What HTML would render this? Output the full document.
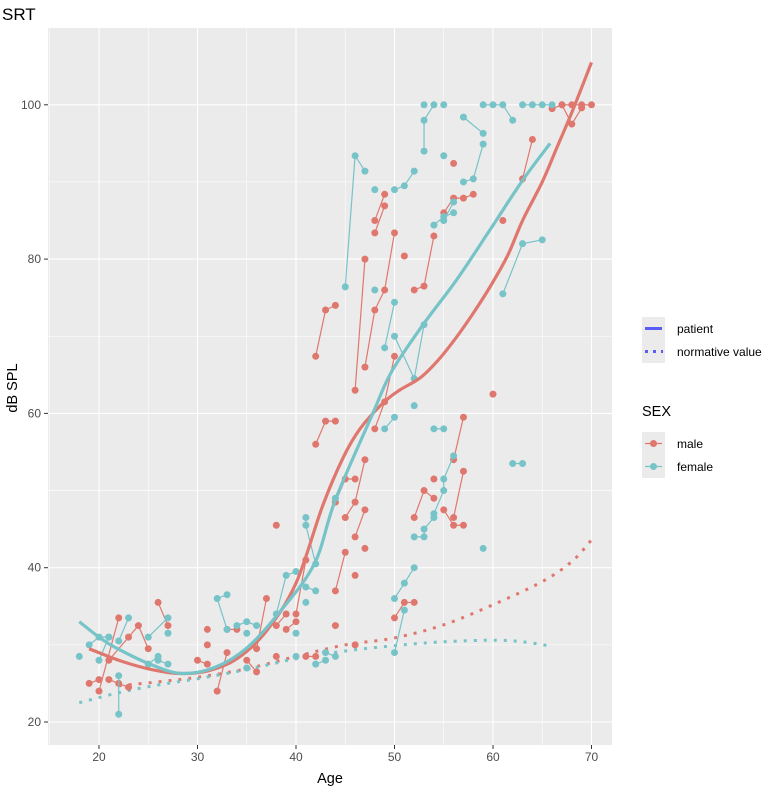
<!DOCTYPE html>
<html><head><meta charset="utf-8"><style>
body{margin:0;background:#fff;font-family:"Liberation Sans",sans-serif}
svg text{font-family:"Liberation Sans",sans-serif}
</style></head><body>
<svg id="chart" width="779" height="790" viewBox="0 0 779 790">
<text x="2" y="20" font-size="17" fill="#000">SRT</text>
<rect x="48" y="28" width="564" height="717" fill="#EBEBEB"/>
<g id="grid"></g>
<g id="axes"></g>
<g id="series"></g>
<text x="330" y="783" font-size="14.5" text-anchor="middle" fill="#000">Age</text>
<text transform="translate(17,388) rotate(-90)" font-size="14.5" text-anchor="middle" fill="#000">dB SPL</text>
<g>
<rect x="642" y="317" width="23" height="23" fill="#EBEBEB"/>
<line x1="645" y1="328.5" x2="662" y2="328.5" stroke="#5B5BF5" stroke-width="3"/>
<text x="677" y="333" font-size="12" fill="#000">patient</text>
<rect x="642" y="340" width="23" height="23" fill="#EBEBEB"/>
<line x1="645" y1="351.5" x2="663" y2="351.5" stroke="#5B5BF5" stroke-width="3" stroke-dasharray="3,5"/>
<text x="677" y="356" font-size="12" fill="#000">normative value</text>
</g>
<g>
<text x="642" y="416" font-size="14.5" fill="#000">SEX</text>
<rect x="642" y="432" width="23" height="23" fill="#EBEBEB"/>
<line x1="645" y1="443.5" x2="662" y2="443.5" stroke="#E0776E" stroke-width="1.2"/>
<circle cx="653.5" cy="443.5" r="3.5" fill="#E0776E"/>
<text x="677" y="448" font-size="12" fill="#000">male</text>
<rect x="642" y="455" width="23" height="23" fill="#EBEBEB"/>
<line x1="645" y1="466.5" x2="662" y2="466.5" stroke="#76C3C8" stroke-width="1.2"/>
<circle cx="653.5" cy="466.5" r="3.5" fill="#76C3C8"/>
<text x="677" y="471" font-size="12" fill="#000">female</text>
</g>
</svg>
<script>
const xTicks = [20,30,40,50,60,70];
const yTicks = [20,40,60,80,100];
const maleGroups = [
[[19,25],[20,25.5]],[[21,25.5],[22,25],[23,24.5]],[[20,24],[22,33.5]],[[21,28],[23,31],[24,32.5],[25,29.5]],
[[26,35.5],[27,32.5]],[[30,28],[31,27.5]],[[31,32]],[[31,30]],[[32,24],[33,29]],[[33,32],[34,32]],
[[37,36],[36,29.5]],[[35,28],[36,26.5]],[[38,32.5],[39,34]],[[39,32],[40,33]],[[40,34],[41,41]],[[38,28.5]],[[38,45.5]],
[[41,28.5],[42,28.5]],[[44,37],[45,42]],[[44,32.5]],[[42,56],[43,59],[44,59]],[[42,67.4],[43,73.4],[44,74]],
[[44,48.5],[45,51.5],[46,51.5]],[[45,46.5],[46,48.5],[47,54]],[[46,44],[47,47.5]],[[47,42.5]],[[46,39]],[[46,30]],
[[46,63],[47,80]],[[47,66],[48,73.4],[49,76],[50,83.4]],[[48,58],[49,61.5],[50,67.4]],[[51,80.4]],
[[52,76],[53,76.5],[54,83]],[[48,85],[49,88.4]],[[48,83.4],[49,86.9]],[[50,33.5],[51,35.5],[52,35.5]],
[[52,46.5],[53,50],[54,49]],[[54,51.5]],[[55,47.5],[56,45.5],[57,45.5]],[[56,46.5],[57,52.5]],[[56,54],[57,59.5]],
[[55,86],[56,87.9],[57,87.9],[58,88.4]],[[56,92.4]],[[60,62.5]],[[61,85]],[[63,90.4],[64,95.5]],
[[66,99.5],[67,100],[68,100],[69,100],[70,100]],[[67,100],[68,97.5],[69,99.6]]
];
const femaleGroups = [
[[18,28.5]],[[19,30],[20,31],[21,31]],[[20,28],[21,31]],[[22,30.5],[23,33.5]],[[22,26],[22,21]],[[25,31],[27,33.5]],
[[27,31.5]],[[25,27.5],[26,28.5]],[[26,28],[27,27.5]],[[33,36.5],[32,36],[33,32]],[[34,32.5],[35,33],[36,32.5]],
[[35,31.5]],[[35,27]],[[38,34],[39,39],[40,39.5]],[[40,31.5]],[[40,28.5]],[[41,46.5],[41,45.5],[42,40.5]],
[[41,37.5],[42,37]],[[41,35.5]],[[43,29],[44,28.5]],[[42,27.5],[43,28]],[[44,49]],[[45,76.4],[46,93.4],[47,91.4]],
[[48,76]],[[48,89]],[[50,89],[51,89.5],[52,91.4]],[[49,68.5],[50,74.4]],[[50,70],[52,64.5],[53,71.5]],[[52,61]],
[[49,58],[50,59.5]],[[54,58],[55,58]],[[52,44],[53,44],[53,45],[54,46.5],[54,47],[55,50],[55,51.5],[56,54.5]],
[[50,29],[51,34.5]],[[50,36],[51,38],[52,40]],[[59,42.5]],[[53,94],[53,98],[54,100]],[[53,100]],[[55,100]],
[[54,84.4],[55,85.5],[56,86]],[[55,85],[56,87.4]],[[55,93.4]],[[57,98.4],[59,96.3]],[[57,90],[58,90.4],[59,94.9]],
[[59,100],[60,100],[61,100],[62,98]],[[63,100],[64,100],[65,100],[66,100]],[[61,75.5],[63,82],[65,82.5]],[[62,53.5],[63,53.5]]
];
const maleFitAge = [19,22,25,28,31,34,37,40,42.7,44.8,46.5,48.8,50.5,52.6,54.5,56.3,58,59.7,61.5,63,65,66.5,68,70];
const maleFitDb  = [29.5,28,26.9,26.3,26.6,28.2,31.8,38,48,54.3,58,61.3,63,64.6,67,69.9,73,76.4,80.5,85,90,94.5,99,105.5];
const femaleFitAge = [18,20,21.6,25,28.3,31.8,35.1,38.5,41.9,44,47.8,49.7,52.9,56.3,59.7,63,65.8];
const femaleFitDb  = [33,31,29.7,27.6,26.3,27.1,29.7,34.5,40.6,48.8,60,65.4,71.5,77.3,83.8,90.2,95];
const maleNormAge = [22,26,30,35,40,45,50,55,60,65,68,70];
const maleNormDb  = [24.7,25.2,25.8,26.9,28.5,30,30.9,32.6,35.2,38.2,40.8,43.6];
const femaleNormAge = [18,22,26,30,35,40,45,50,55,60,63,66];
const femaleNormDb  = [22.5,23.8,24.8,25.6,26.8,28.2,29.2,29.9,30.4,30.6,30.4,29.8];

const X0=48,X1=612,Y0=28,Y1=745;
function xs(a){return 99+(a-20)*9.85;}
function ys(d){return 722-(d-20)*7.715;}
const NS='http://www.w3.org/2000/svg';
function mk(tag,attrs,parent){const e=document.createElementNS(NS,tag);for(const k in attrs)e.setAttribute(k,attrs[k]);parent.appendChild(e);return e;}
const grid=document.getElementById('grid'),axes=document.getElementById('axes'),ser=document.getElementById('series');

for(let a=15;a<=75;a+=5){const px=xs(a);if(px<X0||px>X1)continue;
  const major=a%10===0;
  const g=mk('line',{x1:px,x2:px,y1:Y0,y2:Y1,stroke:'#fff','stroke-width':major?1.1:0.55},grid);
  
  
}
for(let d=10;d<=110;d+=10){const py=ys(d);if(py<Y0||py>Y1)continue;
  const major=d%20===0;
  const g=mk('line',{x1:X0,x2:X1,y1:py,y2:py,stroke:'#fff','stroke-width':major?1.1:0.55},grid);
  
  
}
xTicks.forEach(t=>{const px=xs(t);
  mk('line',{x1:px,x2:px,y1:Y1,y2:Y1+4,stroke:'#333','stroke-width':1},axes);
  const tx=mk('text',{x:px,y:Y1+16,'font-size':12,'text-anchor':'middle',fill:'#4D4D4D'},axes);tx.textContent=t;
  
  
});
yTicks.forEach(t=>{const py=ys(t);
  mk('line',{x1:X0-4,x2:X0,y1:py,y2:py,stroke:'#333','stroke-width':1},axes);
  const tx=mk('text',{x:X0-7,y:py+4,'font-size':12,'text-anchor':'end',fill:'#4D4D4D'},axes);tx.textContent=t;
  
  
});

function drawGroups(groups,color,name){
  groups.forEach(g=>{
    if(g.length>1){
      const pl=mk('polyline',{points:g.map(p=>xs(p[0])+','+ys(p[1])).join(' '),fill:'none',stroke:color,'stroke-width':1.2},ser);
      
      
    }
  });
  groups.forEach(g=>{g.forEach(p=>{
    const c=mk('circle',{cx:xs(p[0]),cy:ys(p[1]),r:3.5,fill:color},ser);
    
    
  });});
}
function smoothPath(ages,dbs){
  const P=ages.map((a,i)=>[xs(a),ys(dbs[i])]);
  let d='M'+P[0][0]+','+P[0][1];
  for(let i=0;i<P.length-1;i++){
    const p0=P[Math.max(0,i-1)],p1=P[i],p2=P[i+1],p3=P[Math.min(P.length-1,i+2)];
    const c1=[p1[0]+(p2[0]-p0[0])/6,p1[1]+(p2[1]-p0[1])/6];
    const c2=[p2[0]-(p3[0]-p1[0])/6,p2[1]-(p3[1]-p1[1])/6];
    d+=' C'+c1[0]+','+c1[1]+' '+c2[0]+','+c2[1]+' '+p2[0]+','+p2[1];
  }
  return d;
}
function drawLine(ages,dbs,color,w,dash,name){
  const attrs={d:smoothPath(ages,dbs),fill:'none',stroke:color,'stroke-width':w,'stroke-linejoin':'round','stroke-linecap':'butt'};
  if(dash)attrs['stroke-dasharray']=dash;
  const l=mk('path',attrs,ser);
  
  
}
drawLine(maleNormAge,maleNormDb,'#E0776E',3,'3,7','male-normative-line');
drawLine(femaleNormAge,femaleNormDb,'#76C3C8',3,'3,7','female-normative-line');
drawGroups(maleGroups,'#E0776E','male');
drawGroups(femaleGroups,'#76C3C8','female');
drawLine(maleFitAge,maleFitDb,'#E0776E',3.2,null,'male-patient-fit');
drawLine(femaleFitAge,femaleFitDb,'#76C3C8',3.2,null,'female-patient-fit');
</script>
</body></html>
